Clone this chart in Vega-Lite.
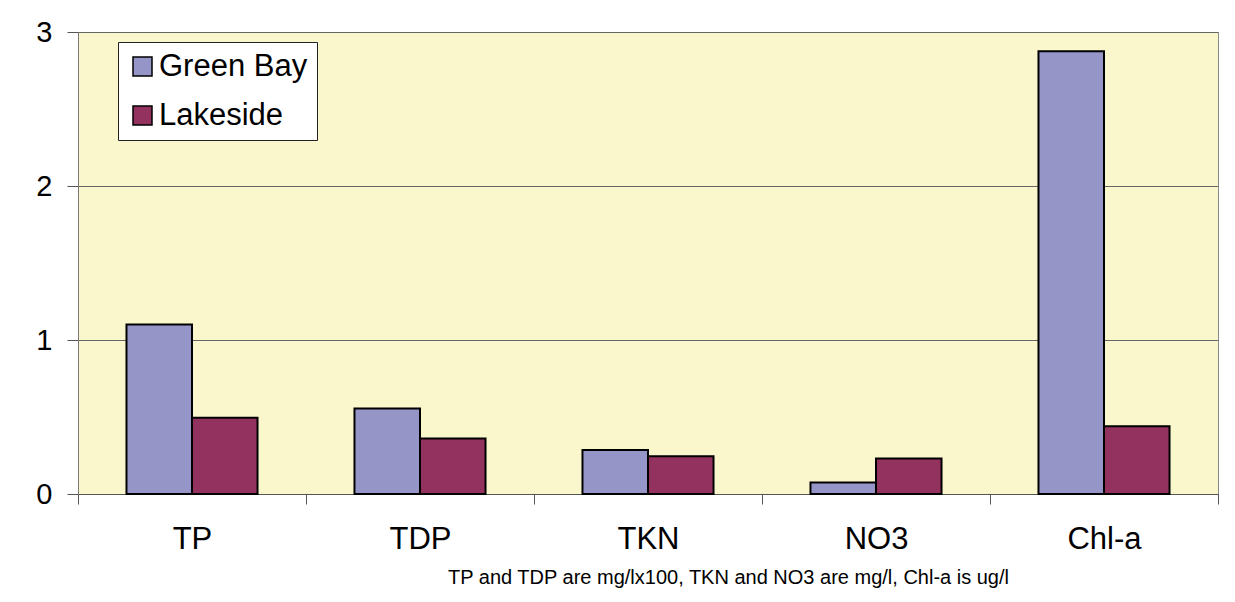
{
  "$schema": "https://vega.github.io/schema/vega-lite/v6.json",
  "autosize": "none",
  "width": 1140,
  "height": 462,
  "padding": {"left": 78, "top": 32, "right": 17, "bottom": 108},
  "background": "white",
  "data": {"values": [
    {"param": "TP", "site": "Green Bay", "value": 1.10},
    {"param": "TP", "site": "Lakeside", "value": 0.495},
    {"param": "TDP", "site": "Green Bay", "value": 0.555},
    {"param": "TDP", "site": "Lakeside", "value": 0.36},
    {"param": "TKN", "site": "Green Bay", "value": 0.285},
    {"param": "TKN", "site": "Lakeside", "value": 0.245},
    {"param": "NO3", "site": "Green Bay", "value": 0.075},
    {"param": "NO3", "site": "Lakeside", "value": 0.23},
    {"param": "Chl-a", "site": "Green Bay", "value": 2.875},
    {"param": "Chl-a", "site": "Lakeside", "value": 0.44}
  ]},
  "mark": {"type": "bar", "stroke": "black", "strokeWidth": 2},
  "encoding": {
    "x": {
      "field": "param", "type": "nominal",
      "sort": ["TP", "TDP", "TKN", "NO3", "Chl-a"],
      "scale": {"paddingInner": 0, "paddingOuter": 0},
      "axis": {
        "title": "TP and TDP are mg/lx100, TKN and NO3 are mg/l, Chl-a is ug/l",
        "titleFont": "Liberation Sans", "titleFontSize": 20, "titleFontWeight": "normal", "titleColor": "black",
        "titleX": 650, "titleY": 89, "titleBaseline": "alphabetic", "titleAlign": "center",
        "labelAngle": 0, "labelFont": "Liberation Sans", "labelFontSize": 31, "labelColor": "black",
        "labelPadding": 20, "tickSize": 10, "tickColor": "#555", "tickBand": "extent",
        "domainColor": "#555", "domainWidth": 1.2
      }
    },
    "xOffset": {"field": "site", "type": "nominal", "sort": ["Green Bay", "Lakeside"],
      "scale": {"paddingInner": 0, "paddingOuter": 0.74}},
    "y": {
      "field": "value", "type": "quantitative",
      "scale": {"domain": [0, 3]},
      "axis": {
        "title": null, "values": [0, 1, 2, 3],
        "labelFont": "Liberation Sans", "labelFontSize": 29, "labelColor": "black",
        "labelPadding": 15, "tickSize": 11, "tickColor": "#555",
        "domainColor": "#777", "gridColor": "#666", "gridWidth": 1
      }
    },
    "color": {
      "field": "site", "type": "nominal",
      "scale": {"domain": ["Green Bay", "Lakeside"], "range": ["#9595C8", "#93315F"]},
      "legend": {
        "title": null, "orient": "none", "legendX": 40, "legendY": 10,
        "fillColor": "white", "strokeColor": "#222",
        "padding": 9, "symbolType": "square", "symbolSize": 361,
        "symbolStrokeColor": "black", "symbolStrokeWidth": 1.5,
        "labelFont": "Liberation Sans", "labelFontSize": 31, "labelColor": "black",
        "labelOffset": 1, "rowPadding": 17
      }
    }
  },
  "config": {
    "view": {"fill": "#FAF7CD", "stroke": "#8a8a8a", "strokeWidth": 1}
  }
}
